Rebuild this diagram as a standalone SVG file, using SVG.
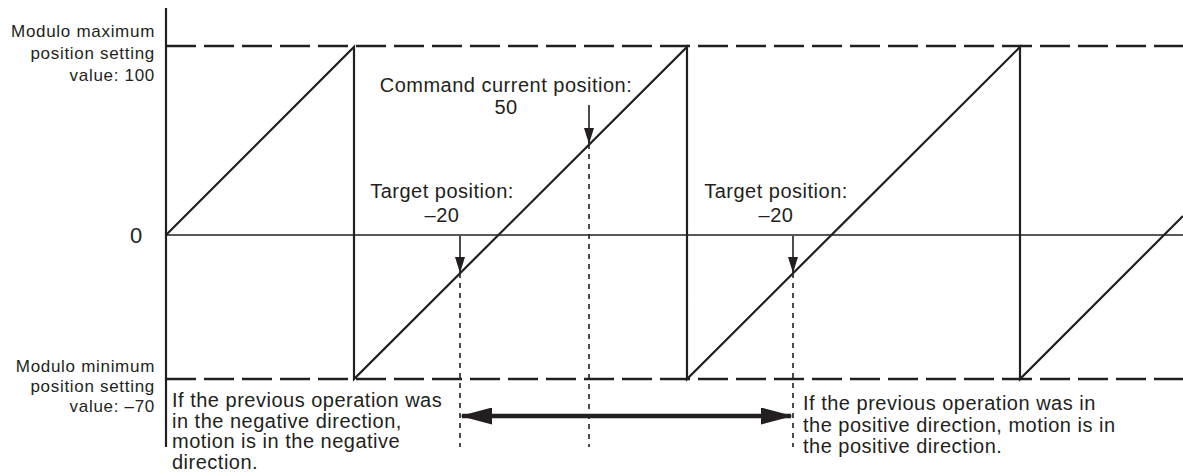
<svg xmlns="http://www.w3.org/2000/svg" width="1183" height="472" viewBox="0 0 1183 472">
<style>
text{font-family:"Liberation Sans",Arial,sans-serif;fill:#231f20}
.lbl{font-size:17px;letter-spacing:0.7px;text-anchor:end}
.big{font-size:20px;letter-spacing:0.5px}
.mid{text-anchor:middle}
.solid{stroke:#231f20;stroke-width:2.2;fill:none}
.dash{stroke:#231f20;stroke-width:2.4;stroke-dasharray:30 8;fill:none}
.dot{stroke:#231f20;stroke-width:1.6;stroke-dasharray:5 5;fill:none}
.thin{stroke:#231f20;stroke-width:1.6;fill:none}
</style>
<defs>
<marker id="ah" viewBox="0 0 16 10" refX="16" refY="5" markerWidth="16" markerHeight="10" markerUnits="userSpaceOnUse" orient="auto">
<path d="M0,0 L16,5 L0,10 Z" fill="#231f20"/>
</marker>
<marker id="bh" viewBox="0 0 32 17" refX="30" refY="8.5" markerWidth="32" markerHeight="17" markerUnits="userSpaceOnUse" orient="auto-start-reverse">
<path d="M0,0 L32,8.5 L0,17 Z" fill="#231f20"/>
</marker>
</defs>
<g id="axes">
<line class="solid" x1="166" y1="8" x2="166" y2="447"/>
<line class="thin" x1="166" y1="235" x2="1183" y2="235"/>
<line class="dash" x1="166" y1="46" x2="1183" y2="46"/>
<line class="dash" x1="166" y1="379" x2="1183" y2="379"/>
</g>
<g id="sawtooth">
<polyline class="solid" points="166,235 354,47 354,379 687,47 687,379 1020,47 1020,379 1183,216"/>
</g>
<g id="axis-labels">
<text class="lbl" x="155" y="37">Modulo maximum</text>
<text class="lbl" x="155" y="59">position setting</text>
<text class="lbl" x="155" y="81">value: 100</text>
<text class="lbl" x="155" y="372">Modulo minimum</text>
<text class="lbl" x="155" y="392">position setting</text>
<text class="lbl" x="155" y="412">value: –70</text>
<text x="136" y="243" font-size="22" text-anchor="middle">0</text>
</g>
<g id="command-label">
<text class="big mid" x="506" y="92">Command current position:</text>
<text class="big mid" x="506" y="114">50</text>
</g>
<g id="target-left">
<text class="big mid" x="442" y="198">Target position:</text>
<text class="big mid" x="442" y="222">–20</text>
</g>
<g id="target-right">
<text class="big mid" x="776" y="198">Target position:</text>
<text class="big mid" x="776" y="222">–20</text>
</g>
<g id="note-negative">
<text class="big" x="172" y="407">If the previous operation was</text>
<text class="big" x="172" y="427.5">in the negative direction,</text>
<text class="big" x="172" y="448">motion is in the negative</text>
<text class="big" x="172" y="468.5">direction.</text>
</g>
<g id="note-positive">
<text class="big" x="803" y="410">If the previous operation was in</text>
<text class="big" x="803" y="431.5">the positive direction, motion is in</text>
<text class="big" x="803" y="453">the positive direction.</text>
</g>
<g id="connectors">
<line class="dot" x1="460" y1="273" x2="460" y2="447"/>
<line class="dot" x1="589" y1="144" x2="589" y2="447"/>
<line class="dot" x1="793" y1="273" x2="793" y2="447"/>
<line class="thin" x1="589" y1="105" x2="589" y2="144" marker-end="url(#ah)"/>
<line class="thin" x1="460" y1="236" x2="460" y2="273" marker-end="url(#ah)"/>
<line class="thin" x1="793" y1="236" x2="793" y2="273" marker-end="url(#ah)"/>
<line stroke="#231f20" stroke-width="4.5" x1="462" y1="416" x2="791" y2="416" marker-start="url(#bh)" marker-end="url(#bh)"/>
</g>
</svg>
